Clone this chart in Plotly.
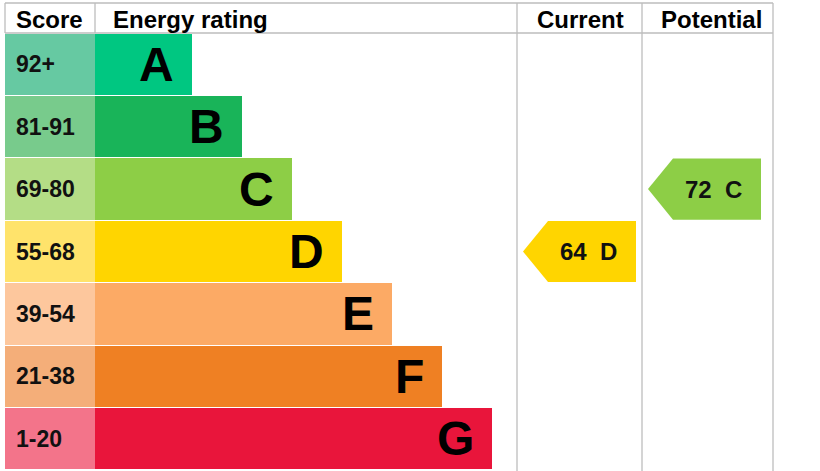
import plotly.graph_objects as go

# ---------------- data ----------------
ratings = ["A", "B", "C", "D", "E", "F", "G"]
score_ranges = ["92+", "81-91", "69-80", "55-68", "39-54", "21-38", "1-20"]
band_min = [92, 81, 69, 55, 39, 21, 1]
bar_colors = ["#00c781", "#19b459", "#8dce46", "#ffd500", "#fcaa65", "#ef8023", "#e9153b"]
score_colors = ["#66c9a2", "#78cb8c", "#b4dd86", "#ffe36b", "#fdc79d", "#f4ae79", "#f3748a"]
columns = ["Score", "Energy rating", "Current", "Potential"]
current_value = 64
potential_value = 72

# ---------------- layout constants (pixels) ----------------
W, H = 820, 471
TOP, HEAD_BOT, ROW_H = 3, 33, 62.43
X_LEFT, X_SCORE_END = 5, 95
X_CUR, X_POT, X_RIGHT = 517, 642, 773
BAR_STEP, BAR_FIRST = 50, 97
FONT = "Liberation Sans, Arial, sans-serif"
GRID = "#bdbdbd"


def py(p):
    """pixel row -> y axis value (row index units)"""
    return (p - HEAD_BOT) / ROW_H - 0.5


def band_of(v):
    for i, m in enumerate(band_min):
        if v >= m:
            return i
    return len(band_min) - 1


rows = list(range(len(ratings)))
bar_len = [BAR_FIRST + BAR_STEP * i for i in rows]

fig = go.Figure()

# score column cells
fig.add_trace(go.Bar(orientation="h", y=rows, x=[X_SCORE_END - X_LEFT] * len(rows), base=X_LEFT,
                     marker=dict(color=score_colors, line=dict(width=0)), width=0.98,
                     hoverinfo="skip", showlegend=False))
# rating bars
fig.add_trace(go.Bar(orientation="h", y=rows, x=bar_len, base=X_SCORE_END,
                     marker=dict(color=bar_colors, line=dict(width=0)), width=0.98,
                     hoverinfo="skip", showlegend=False))

annotations = []
for i in rows:
    end = X_SCORE_END + bar_len[i]
    annotations.append(dict(x=end - 16, y=i, xref="x", yref="y", text="<b>%s</b>" % ratings[i],
                            showarrow=False, xanchor="right", yanchor="middle",
                            font=dict(family=FONT, size=48, color="#000")))
    annotations.append(dict(x=14, y=i, xref="x", yref="y", text="<b>%s</b>" % score_ranges[i],
                            showarrow=False, xanchor="left", yanchor="middle",
                            font=dict(family=FONT, size=23, color="#111")))

# headers
hy = py(19)
hdr_font = dict(family=FONT, size=24, color="#000")
annotations += [
    dict(x=14, y=hy, text="<b>%s</b>" % columns[0], xanchor="left"),
    dict(x=111, y=hy, text="<b>%s</b>" % columns[1], xanchor="left"),
    dict(x=580, y=hy, text="<b>%s</b>" % columns[2], xanchor="center"),
    dict(x=711, y=hy, text="<b>%s</b>" % columns[3], xanchor="center"),
]
for a in annotations[-4:]:
    a.update(xref="x", yref="y", showarrow=False, yanchor="middle", font=hdr_font)


# arrows
def arrow(value, col_left):
    b = band_of(value)
    left = col_left + 6
    right = left + 113
    tip = 25
    y0, y1 = b - 0.49, b + 0.49
    xs = [left, left + tip, right, right, left + tip, left]
    ys = [b, y0, y0, y1, y1, b]
    fig.add_trace(go.Scatter(x=xs, y=ys, fill="toself", fillcolor=bar_colors[b], mode="lines",
                             line=dict(width=0, color=bar_colors[b]), hoverinfo="skip",
                             showlegend=False))
    annotations.append(dict(x=right - 48, y=b, xref="x", yref="y",
                            text="<b>%d&nbsp;&nbsp;%s</b>" % (value, ratings[b]),
                            showarrow=False, xanchor="center", yanchor="middle",
                            font=dict(family=FONT, size=24, color="#111")))


arrow(current_value, X_CUR)
arrow(potential_value, X_POT)

# grid lines
shapes = []
ln = dict(color=GRID, width=1.3)
yt, yh, yb = py(TOP), py(HEAD_BOT), py(H)
shapes.append(dict(type="line", xref="x", yref="y", x0=X_LEFT, x1=X_RIGHT, y0=yt, y1=yt, line=ln))
shapes.append(dict(type="line", xref="x", yref="y", x0=X_LEFT, x1=X_RIGHT, y0=yh, y1=yh, line=ln))
shapes.append(dict(type="line", xref="x", yref="y", x0=X_LEFT, x1=X_LEFT, y0=yt, y1=yh, line=ln))
shapes.append(dict(type="line", xref="x", yref="y", x0=X_SCORE_END, x1=X_SCORE_END, y0=yt, y1=yh, line=ln))
for xv in (X_CUR, X_POT, X_RIGHT):
    shapes.append(dict(type="line", xref="x", yref="y", x0=xv, x1=xv, y0=yt, y1=yb, line=ln))

fig.update_layout(
    width=W, height=H, margin=dict(l=0, r=0, t=0, b=0),
    paper_bgcolor="white", plot_bgcolor="white",
    barmode="overlay", bargap=0,
    xaxis=dict(range=[0, W], visible=False, fixedrange=True),
    yaxis=dict(range=[py(H), py(0)], visible=False, fixedrange=True),
    annotations=annotations, shapes=shapes, showlegend=False,
)

fig.write_html("out.html", config={"displayModeBar": False})
